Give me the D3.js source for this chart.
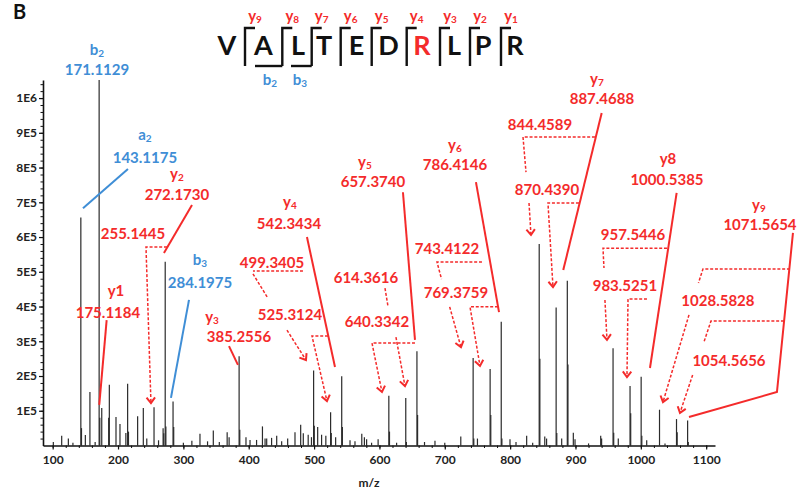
<!DOCTYPE html>
<html><head><meta charset="utf-8">
<script src="https://cdn.jsdelivr.net/npm/d3@7"></script>
<style>
html,body{margin:0;padding:0;background:#fff;}
svg{display:block;font-family:Lato,"Open Sans",sans-serif;}
</style></head><body>
<svg id="c" width="800" height="491"></svg>
<script>
// ---------------- data ----------------
const peakMz = [101,113.8,124,131,143.1,144.1,150,157,165,171.1,172.1,175.1,185.7,186.7,196.9,203,212,214.7,216,230,238.7,244,255.1,262,269,270,272.2,273.2,284.2,285.2,300,313,325.4,337,345.8,355,367,370,385.3,386.3,395.8,402,412,421,425,427.5,435,442.8,450.4,459.6,470.8,479.5,483.5,491,496,499.3,500.3,505.5,511.5,518,525.3,526.3,533,542.3,543.3,555,562.6,573,577,580.4,588,598,614.4,615.4,626.3,640.3,641.3,657.4,658.4,669,685,700,724.5,743.4,744.4,750,769.4,770.4,786.4,787.4,799.8,809,825.3,834.5,844.5,845.5,853,855.8,870.4,871.4,878.9,887.5,888.5,896.7,899.3,920,938.6,940,957.5,958.5,965.5,983.5,984.5,1000.5,1001.5,1009,1028.6,1037,1054.6,1055.6,1071.6,1072.6];
const peakInt = [10000,28000,20000,8000,656000,50000,30000,154000,10000,1052000,80000,108000,80000,175000,82000,62000,36000,178000,40000,84000,108000,20000,110000,15000,50000,35000,529000,55000,127000,53000,8000,14000,34000,12000,43000,10000,38000,24000,257000,45000,24000,16000,16000,55000,20000,20000,22000,28000,12000,20000,38000,60000,35000,31000,24000,216000,57000,53000,31000,28000,96000,36000,24000,199000,53000,15000,12000,34000,24000,18000,8000,18000,143000,40000,8000,137000,10000,271000,88000,10000,14000,8000,26000,252000,20000,20000,220000,88000,356000,20000,18000,10000,28000,8000,580000,250000,26000,20000,397000,36000,20000,474000,233000,37000,18000,6000,28000,20000,280000,37000,20000,171000,93000,198000,28000,15000,103000,6000,76000,38000,72000,10000];

const xTickValues = [100,200,300,400,500,600,700,800,900,1000,1100];
const yTickValues = [1e5,2e5,3e5,4e5,5e5,6e5,7e5,8e5,9e5,1e6];
const yTickLabels = ["1E5","2E5","3E5","4E5","5E5","6E5","7E5","8E5","9E5","1E6"];
const xTitle = "m/z";
const panelLetter = "B";

const sequence = ["V","A","L","T","E","D","R","L","P","R"];
const yIonNums = ["9","8","7","6","5","4","3","2","1"];
const bIonNums = ["2","3"];

// annotation labels: position in data units (m/z, intensity in 1E5)
const RED = "#f42b2b", BLUE = "#3f8ed6";
const blueLabels = [
  {t:"b",sub:"2",mz:167.8,k:11.25},{t:"171.1129",mz:167.8,k:10.66},
  {t:"a",sub:"2",mz:241.2,k:8.80},{t:"143.1175",mz:241.2,k:8.13},
  {t:"b",sub:"3",mz:325.4,k:5.20},{t:"284.1975",mz:325.4,k:4.53}
];
const redLabels = [
  {t:"y",sub:"2",mz:290.2,k:7.67},{t:"272.1730",mz:290.2,k:7.06},
  {t:"255.1445",mz:222.9,k:5.94},
  {t:"y1",mz:196.9,k:4.30},{t:"175.1184",mz:184.6,k:3.67},
  {t:"y",sub:"3",mz:343.8,k:3.56},{t:"385.2556",mz:385.1,k:2.98},
  {t:"y",sub:"4",mz:463.1,k:6.87},{t:"542.3434",mz:461.6,k:6.23},
  {t:"499.3405",mz:435.6,k:5.11},{t:"525.3124",mz:463.1,k:3.61},
  {t:"y",sub:"5",mz:577.9,k:8.02},{t:"657.3740",mz:590.1,k:7.44},
  {t:"614.3616",mz:579.4,k:4.68},{t:"640.3342",mz:596.2,k:3.41},
  {t:"y",sub:"6",mz:715.6,k:8.51},{t:"786.4146",mz:715.6,k:7.93},
  {t:"743.4122",mz:703.4,k:5.51},{t:"769.3759",mz:717.1,k:4.24},
  {t:"y",sub:"7",mz:932.9,k:10.41},{t:"887.4688",mz:940.5,k:9.83},
  {t:"844.4589",mz:845.7,k:9.08},{t:"870.4390",mz:856.4,k:7.21},
  {t:"y8",mz:1041.5,k:8.10},{t:"1000.5385",mz:1040.0,k:7.50},
  {t:"957.5446",mz:988.0,k:5.91},{t:"983.5251",mz:975.7,k:4.45},
  {t:"y",sub:"9",mz:1180.8,k:6.78},{t:"1071.5654",mz:1182.3,k:6.20},
  {t:"1028.5828",mz:1118.0,k:4.01},{t:"1054.5656",mz:1134.9,k:2.29}
];
const solidLeaders = [
  {c:BLUE,p:[[215.2,7.96],[146.4,6.83]]},
  {c:BLUE,p:[[308.6,4.19],[281.0,1.37]]},
  {c:RED,p:[[313.2,6.92],[270.3,5.54]]},
  {c:RED,p:[[182.6,3.61],[171.3,1.17]]},
  {c:RED,p:[[369.8,2.86],[383.5,2.32]]},
  {c:RED,p:[[489.1,6.0],[532.0,2.26]]},
  {c:RED,p:[[636.0,7.29],[654.4,3.04]]},
  {c:RED,p:[[747.7,7.58],[783.0,3.84]]},
  {c:RED,p:[[940.1,9.57],[881.3,5.05]]},
  {c:RED,p:[[1054.8,7.27],[1014.0,2.23]]},
  {c:RED,p:[[1232.8,6.12],[1208.3,1.54],[1073.7,0.82]]}
];
const dashedLeaders = [
  {a:1,p:[[274.9,5.71],[242.8,5.71],[250.4,1.22]]},
  {a:0,p:[[483.0,5.02],[406.5,5.02]]},
  {a:0,p:[[406.5,4.94],[429.4,4.24]]},
  {a:1,p:[[458.5,3.32],[487.6,2.46]]},
  {a:1,p:[[521.3,3.15],[496.8,3.15],[519.7,1.28]]},
  {a:0,p:[[608.5,4.53],[613.1,4.01]]},
  {a:1,p:[[654.4,2.95],[588.6,2.95],[603.9,1.54]]},
  {a:1,p:[[625.3,3.12],[639.1,1.71]]},
  {a:0,p:[[756.9,5.28],[688.1,5.28],[695.0,4.79]]},
  {a:1,p:[[707.5,3.99],[724.8,2.83]]},
  {a:1,p:[[781.4,3.99],[738.6,3.99],[753.9,2.29]]},
  {a:0,p:[[929.8,8.88],[819.7,8.88],[824.3,7.87]]},
  {a:1,p:[[828.9,6.98],[831.9,6.06]]},
  {a:1,p:[[905.3,6.98],[857.9,6.98],[865.6,4.56]]},
  {a:0,p:[[1040.0,5.68],[942.1,5.68],[943.6,5.11]]},
  {a:1,p:[[945.1,4.19],[948.2,3.04]]},
  {a:1,p:[[1009.4,4.22],[980.4,4.22],[978.8,1.97]]},
  {a:0,p:[[1228.2,5.08],[1095.1,5.08],[1088.2,4.68]]},
  {a:1,p:[[1073.7,3.76],[1033.9,1.25]]},
  {a:0,p:[[1219.0,3.58],[1107.3,3.58],[1096.6,2.98]]},
  {a:1,p:[[1079.3,2.03],[1059.9,0.94]]}
];

// ---------------- drawing ----------------
const svg = d3.select("#c");
const x = d3.scaleLinear().domain([85.2,1113.5]).range([43,715]);
const y = d3.scaleLinear().domain([0,1052000]).range([445.5,80]);
const P = d => [x(d[0]), y(d[1]*1e5)];
const lineGen = d3.line();

// peaks
svg.append("g").selectAll("line")
  .data(peakMz.map((m,i)=>({m, v:peakInt[i]})))
  .join("line")
  .attr("x1",d=>x(d.m)).attr("x2",d=>x(d.m))
  .attr("y1",y(0)).attr("y2",d=>y(d.v))
  .attr("stroke","#2b2b2b").attr("stroke-width",1.2);

// axes
function styleAxis(g){
  g.selectAll("path.domain").attr("stroke","#111").attr("stroke-width",1.6);
  g.selectAll(".tick line").attr("stroke","#111").attr("stroke-width",1.2);
  g.selectAll(".tick text").attr("font-family","Lato, 'Open Sans', sans-serif")
    .attr("font-size",12).attr("font-weight","bold").attr("fill","#222");
}
const gyMinor = svg.append("g").attr("transform","translate(43,0)")
  .call(d3.axisLeft(y).tickValues(d3.range(2e4,1.05e6,2e4)).tickSize(2.5).tickFormat(""));
gyMinor.select("path.domain").remove();
gyMinor.selectAll(".tick line").attr("stroke","#111");
const gxMinor = svg.append("g").attr("transform","translate(0,445.5)")
  .call(d3.axisBottom(x).tickValues(d3.range(100,1111,20)).tickSize(2.5).tickFormat(""));
gxMinor.select("path.domain").remove();
gxMinor.selectAll(".tick line").attr("stroke","#111");

const gy = svg.append("g").attr("transform","translate(43,0)")
  .call(d3.axisLeft(y).tickValues(yTickValues).tickFormat((d,i)=>yTickLabels[i])
        .tickSize(4).tickSizeOuter(0).tickPadding(2));
styleAxis(gy);
const gx = svg.append("g").attr("transform","translate(0,445.5)")
  .call(d3.axisBottom(x).tickValues(xTickValues).tickFormat(d3.format("d"))
        .tickSize(4).tickSizeOuter(0).tickPadding(6));
styleAxis(gx);

svg.append("text").attr("x",369).attr("y",487).attr("text-anchor","middle")
  .attr("font-size",12).attr("font-weight","bold").attr("fill","#222").text(xTitle);
svg.append("text").attr("x",13).attr("y",19).attr("font-size",20)
  .attr("font-weight","bold").attr("fill","#111").text(panelLetter);

// leaders
solidLeaders.forEach(l=>{
  svg.append("path").attr("d",lineGen(l.p.map(P))).attr("fill","none")
    .attr("stroke",l.c).attr("stroke-width",2);
});
function arrowHead(p1,p2){
  const ang = Math.atan2(p2[1]-p1[1], p2[0]-p1[0]);
  const L=7, a=0.65;
  const q1=[p2[0]-L*Math.cos(ang-a), p2[1]-L*Math.sin(ang-a)];
  const q2=[p2[0]-L*Math.cos(ang+a), p2[1]-L*Math.sin(ang+a)];
  svg.append("path").attr("d",lineGen([q1,p2,q2])).attr("fill","none")
    .attr("stroke",RED).attr("stroke-width",2).attr("stroke-linejoin","miter");
}
dashedLeaders.forEach(l=>{
  const pts = l.p.map(P);
  svg.append("path").attr("d",lineGen(pts)).attr("fill","none")
    .attr("stroke",RED).attr("stroke-width",1.5).attr("stroke-dasharray","3,1.8");
  if(l.a) arrowHead(pts[pts.length-2], pts[pts.length-1]);
});

// labels
function addLabel(l,color){
  const [px,py]=P([l.mz,l.k]);
  const t=svg.append("text").attr("x",px).attr("y",py).attr("text-anchor","middle")
    .attr("fill",color).attr("font-size",15).attr("font-weight","bold");
  t.append("tspan").text(l.t);
  if(l.sub) t.append("tspan").attr("font-size",10).attr("dy",2).text(l.sub);
}
blueLabels.forEach(l=>addLabel(l,BLUE));
redLabels.forEach(l=>addLabel(l,RED));

// sequence header (layout in pixels)
const bracketX = [245,282.3,311.7,340.7,371.7,406.7,440,470,501];
const letterX = [227,263.5,298,324,356.5,388.5,422,454,483,515];
const seqG = svg.append("g");
sequence.forEach((s,i)=>{
  seqG.append("text").attr("x",letterX[i]).attr("y",55).attr("text-anchor","middle")
    .attr("font-size",27).attr("font-weight","bold")
    .attr("fill", i===6 ? RED : "#111").text(s);
});
bracketX.forEach((bx,i)=>{
  seqG.append("path").attr("d",lineGen([[bx,66],[bx,28],[bx+10,28]]))
    .attr("fill","none").attr("stroke","#111").attr("stroke-width",2.4);
  const t=seqG.append("text").attr("x",bx+10).attr("y",21).attr("text-anchor","middle")
    .attr("fill",RED).attr("font-size",15).attr("font-weight","bold");
  t.append("tspan").text("y");
  t.append("tspan").attr("font-size",10).attr("dy",2).text(yIonNums[i]);
});
// b brackets (after A and after L)
[[255,1],[291,2]].forEach(([x0,bi],j)=>{
  seqG.append("path").attr("d",lineGen([[x0,66],[bracketX[bi],66]]))
    .attr("fill","none").attr("stroke","#111").attr("stroke-width",2.4);
  const t=seqG.append("text").attr("x",[270,300][j]).attr("y",85).attr("text-anchor","middle")
    .attr("fill",BLUE).attr("font-size",15).attr("font-weight","bold");
  t.append("tspan").text("b");
  t.append("tspan").attr("font-size",10).attr("dy",2).text(bIonNums[j]);
});
</script>
</body></html>
